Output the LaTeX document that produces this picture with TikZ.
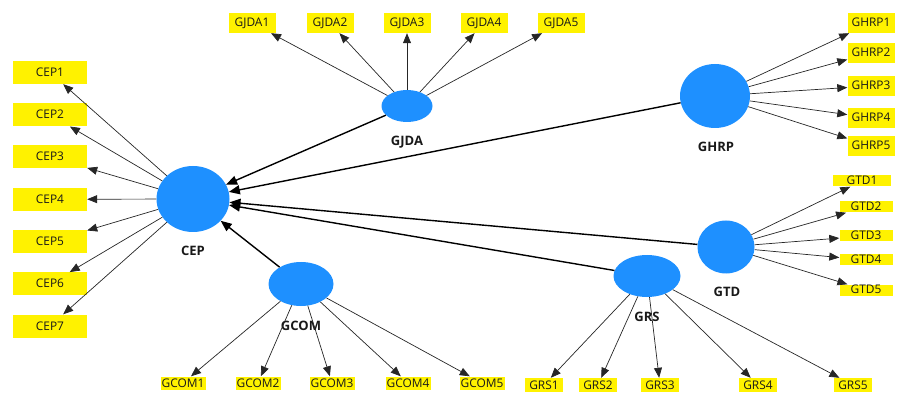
\documentclass[tikz,border=0pt]{standalone}
\usepackage{fontspec}
\setmainfont{Open Sans}
\usetikzlibrary{arrows.meta,shapes.geometric}
\definecolor{pmBlue}{HTML}{1E90FF}
\definecolor{pmYellow}{HTML}{FFF200}

\begin{document}
\begin{tikzpicture}[x=1pt, y=-1pt,
  lat/.style={ellipse, fill=pmBlue, draw=none, inner sep=0pt},
  ind/.style={fill=pmYellow, inner sep=0pt, text=black!90, font=\fontsize{11.9}{12}\selectfont, text height=9.5pt, text depth=1.5pt},
  lbl/.style={font=\fontsize{13}{14}\selectfont\bfseries, text=black!90},
  ldg/.style={-{Triangle[length=10pt, width=8pt]}, line width=0.7pt, black!85},
  pth/.style={-{Triangle[length=11pt, width=9pt]}, line width=1.4pt, black}]
\useasboundingbox (0,0) rectangle (898,393);

% latent variables
\node[lat, minimum width=73pt, minimum height=66pt] (CEP) at (193,199) {};
\node[lat, minimum width=51pt, minimum height=32pt] (GJDA) at (407,106) {};
\node[lat, minimum width=70pt, minimum height=64pt] (GHRP) at (715,96) {};
\node[lat, minimum width=57pt, minimum height=53pt] (GTD) at (726,247) {};
\node[lat, minimum width=65pt, minimum height=44pt] (GCOM) at (301,284) {};
\node[lat, minimum width=67pt, minimum height=42pt] (GRS) at (647,276) {};

\node[lbl] (CEPlbl) at (193,251) {CEP};
\node[lbl] (GJDAlbl) at (407,142) {GJDA};
\node[lbl] (GHRPlbl) at (716,147) {GHRP};
\node[lbl] (GTDlbl) at (727,292) {GTD};
\node[lbl] (GCOMlbl) at (301,326) {GCOM};
\node[lbl] (GRSlbl) at (647,317) {GRS};

% indicators
\foreach \i/\y in {1/72.5,2/114.8,3/157,4/199.3,5/241.5,6/283.8,7/326}
  {\node[ind, minimum width=74pt, minimum height=23pt] (cep\i) at (50,\y) {CEP\i};}
\foreach \i/\x in {1/252,2/330,3/407,4/484,5/561}
  {\node[ind, minimum width=47pt, minimum height=20pt] (gjda\i) at (\x,23) {GJDA\i};}
\foreach \i/\y in {1/23,2/53,3/86,4/118,5/146}
  {\node[ind, minimum width=47pt, minimum height=20pt] (ghrp\i) at (871,\y) {GHRP\i};}
\node[ind, minimum width=58pt, minimum height=11pt] (gtd1) at (862,181) {GTD1};
\foreach \i/\y in {2/207,3/236,4/260,5/290}
  {\node[ind, minimum width=53pt, minimum height=11pt] (gtd\i) at (866,\y) {GTD\i};}
\foreach \i/\x in {1/183,2/258,3/332,4/408,5/482}
  {\node[ind, minimum width=45pt, minimum height=13pt] (gcom\i) at (\x,383) {GCOM\i};}
\foreach \i/\x in {1/544,2/598,3/660,4/758,5/853}
  {\node[ind, minimum width=38pt, minimum height=14pt] (grs\i) at (\x,385) {GRS\i};}

% loadings
\foreach \i in {1,...,7}{\draw[ldg] (CEP) -- (cep\i);}
\foreach \i in {1,...,5}{
  \draw[ldg] (GJDA) -- (gjda\i);
  \draw[ldg] (GHRP) -- (ghrp\i);
  \draw[ldg] (GTD) -- (gtd\i);
  \draw[ldg] (GCOM) -- (gcom\i);
  \draw[ldg] (GRS) -- (grs\i);}

% paths
\foreach \a in {GJDA,GHRP,GTD,GRS,GCOM}{\draw[pth] (\a) -- (CEP);}
\end{tikzpicture}
\end{document}
